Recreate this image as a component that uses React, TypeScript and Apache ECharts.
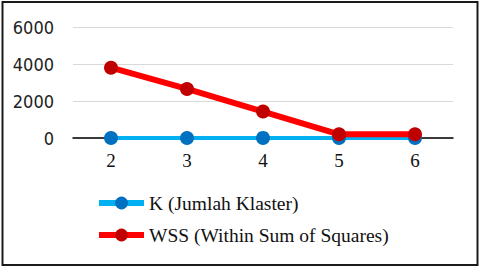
import React, { useEffect, useRef } from "react";
import * as echarts from "echarts";

const categories = ["2", "3", "4", "5", "6"];
const kValues = [2, 3, 4, 5, 6];
const wssValues = [3800, 2650, 1430, 200, 200];
const yTicks = [0, 2000, 4000, 6000];

export default function App() {
  const ref = useRef<HTMLDivElement>(null);
  useEffect(() => {
    if (!ref.current) return;
    const chart = echarts.init(ref.current, undefined, { renderer: "svg" });
    chart.setOption({
      animation: false,
      backgroundColor: "#ffffff",
      graphic: [
        {
          type: "rect",
          shape: { x: 2.5, y: 2, width: 475, height: 263 },
          style: { fill: "none", stroke: "#1a1a1a", lineWidth: 2 },
          silent: true,
        },
      ],
      grid: { left: 73, right: 27, top: 27, bottom: 130 },
      xAxis: {
        type: "category",
        data: categories,
        boundaryGap: true,
        axisLine: { lineStyle: { color: "#000000", width: 1.5 } },
        axisTick: { show: false },
        axisLabel: {
          margin: 13,
          fontFamily: "Liberation Serif",
          fontSize: 19,
          color: "#111111",
        },
      },
      yAxis: {
        type: "value",
        min: yTicks[0],
        max: yTicks[yTicks.length - 1],
        interval: 2000,
        axisLine: { show: false },
        axisTick: { show: false },
        splitLine: { lineStyle: { color: "#d9d9d9", width: 1.2 } },
        axisLabel: {
          margin: 19,
          fontFamily: "DejaVu Sans Condensed",
          fontSize: 18,
          color: "#222222",
          formatter: (v: number) => String(v),
        },
      },
      legend: {
        orient: "vertical",
        left: 91,
        top: 188,
        itemWidth: 45,
        itemHeight: 16,
        itemGap: 12,
        lineStyle: { width: 6 },
        textStyle: {
          fontFamily: "Liberation Serif",
          fontSize: 19.5,
          color: "#111111",
        },
        data: ["K (Jumlah Klaster)", "WSS (Within Sum of Squares)"],
      },
      series: [
        {
          name: "K (Jumlah Klaster)",
          type: "line",
          data: kValues,
          symbol: "circle",
          symbolSize: 14,
          lineStyle: { color: "#00b0f0", width: 4 },
          itemStyle: { color: "#0070c0" },
          z: 2,
        },
        {
          name: "WSS (Within Sum of Squares)",
          type: "line",
          data: wssValues,
          symbol: "circle",
          symbolSize: 14,
          lineStyle: { color: "#ff0000", width: 6 },
          itemStyle: { color: "#c00000" },
          z: 3,
        },
      ],
    });
    return () => chart.dispose();
  }, []);
  return (
    <div
      ref={ref}
      style={{ position: "absolute", left: 0, top: 0, width: 480, height: 268 }}
    />
  );
}
